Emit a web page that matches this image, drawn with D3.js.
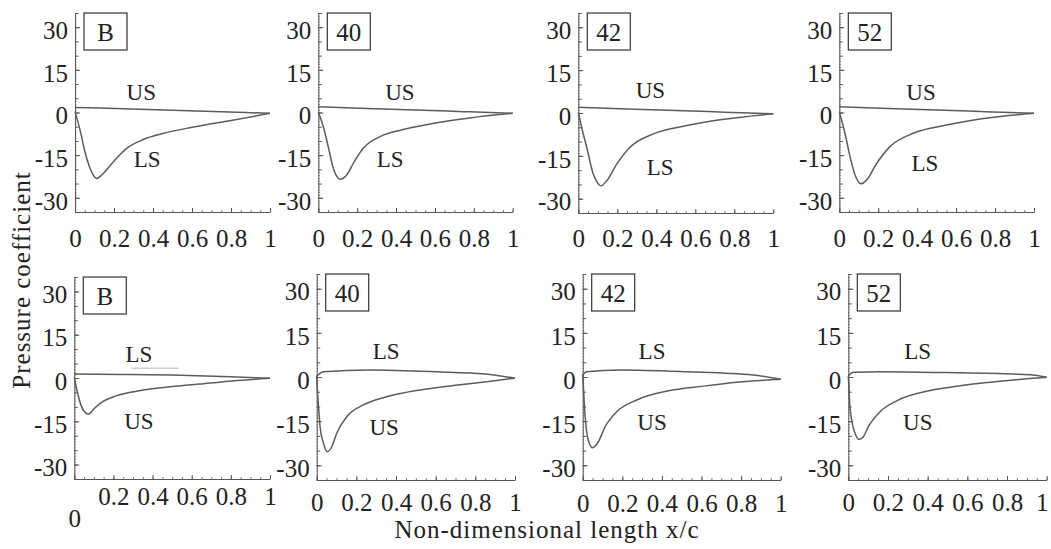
<!DOCTYPE html>
<html>
<head>
<meta charset="utf-8">
<script src="https://cdn.jsdelivr.net/npm/d3@7"></script>
<style>
  html, body { margin: 0; padding: 0; background: #fff; }
  svg { display: block; }
</style>
</head>
<body>
<svg id="chart" width="1051" height="549"></svg>
<script>
// ---- Tick values and labels ----
const xTicks = [0, 0.2, 0.4, 0.6, 0.8, 1];
const xTickLabels = ["0", "0.2", "0.4", "0.6", "0.8", "1"];
const yTicks = [-30, -15, 0, 15, 30];
const yTickLabels = ["-30", "-15", "0", "15", "30"];
const yDomain = [-35, 35];

// ---- Case names (one per panel, row by row) ----
const caseNames = ["B", "40", "42", "52", "B", "40", "42", "52"];

// ---- Pressure coefficient along the chord, [x/c, Cp] ----
// Top row
const topB_US = [[0, 1.8], [0.25, 1.3], [0.5, 0.8], [0.75, 0.25], [1, -0.3]];
const topB_LS = [[0, 0.3], [0.026, -6.2], [0.051, -13.8], [0.077, -19.6], [0.094, -22], [0.111, -23.2],
  [0.137, -22], [0.154, -20.8], [0.197, -17.3], [0.265, -12.6], [0.35, -9.5], [0.45, -7.4],
  [0.6, -5.2], [0.8, -2.8], [1, -0.3]];
const top40_US = [[0, 2.0], [0.25, 1.4], [0.5, 0.9], [0.75, 0.3], [1, -0.3]];
const top40_LS = [[0, 0.2], [0.026, -5], [0.051, -12], [0.077, -19.6], [0.095, -22.5], [0.112, -23.5],
  [0.146, -22], [0.18, -17.9], [0.231, -12.6], [0.317, -8.5], [0.437, -6.0], [0.609, -3.6],
  [0.781, -1.9], [1, -0.3]];
const top42_US = [[0, 2.0], [0.25, 1.4], [0.5, 0.9], [0.75, 0.3], [1, -0.3]];
const top42_LS = [[0, 0.3], [0.017, -5], [0.043, -12], [0.077, -21.4], [0.095, -24], [0.116, -25.5],
  [0.146, -23.7], [0.197, -17.9], [0.265, -12], [0.385, -7.3], [0.556, -4.4], [0.727, -2.4], [1, -0.3]];
const top52_US = [[0, 2.0], [0.25, 1.4], [0.5, 0.9], [0.75, 0.3], [1, -0.3]];
const top52_LS = [[0, 0.3], [0.029, -7.3], [0.055, -15.5], [0.081, -22], [0.111, -25.1], [0.141, -23.7],
  [0.192, -17.9], [0.26, -12], [0.38, -7.3], [0.551, -4.4], [0.723, -2.3], [1, -0.3]];
// Bottom row
const botB_LS = [[0, 1.4], [0.25, 1.2], [0.5, 1.0], [0.8, 0.45], [1, -0.1]];
const botB_US = [[0, 0.3], [0.017, -5.3], [0.034, -9.4], [0.056, -12], [0.073, -12.5], [0.103, -10.5],
  [0.145, -8.2], [0.213, -6.2], [0.332, -4.4], [0.468, -3.2], [0.638, -2.1], [0.808, -1.0], [1, -0.1]];
const bot40_LS = [[0, 0.3], [0.034, 1.8], [0.27, 2.4], [0.6, 1.8], [0.85, 1.0], [1, -0.4]];
const bot40_US = [[0, 0.3], [0.003, -4], [0.008, -9], [0.017, -16.9], [0.034, -22.5], [0.054, -25.4],
  [0.076, -23.7], [0.101, -19.1], [0.151, -13.5], [0.235, -9.5], [0.353, -6.7], [0.521, -4.4],
  [0.689, -2.9], [0.857, -1.6], [1, -0.4]];
const bot42_LS = [[0, 0.7], [0.02, 1.8], [0.19, 2.4], [0.525, 1.8], [0.86, 0.7], [1, -0.8]];
const bot42_US = [[0, 0.7], [0.004, -4], [0.008, -9], [0.017, -16.9], [0.028, -21.4], [0.05, -24],
  [0.079, -22], [0.113, -16.9], [0.172, -11.8], [0.273, -7.8], [0.441, -4.6], [0.609, -3.1],
  [0.778, -1.8], [1, -0.8]];
const bot52_LS = [[0, 0.3], [0.025, 1.6], [0.16, 1.8], [0.496, 1.5], [0.832, 1.0], [0.93, 0.7], [1, -0.1]];
const bot52_US = [[0, 0.3], [0.003, -3], [0.006, -7.8], [0.017, -14.6], [0.034, -19.1], [0.054, -21.2],
  [0.076, -20.3], [0.101, -16.9], [0.16, -11.8], [0.244, -8.1], [0.412, -4.6], [0.58, -2.8],
  [0.832, -1.0], [1, -0.1]];

// Faint trace under the LS tag of the lower baseline panel
const faintTrace = [[0.293, 3.4], [0.531, 3.4]];

// Surface tags: [text, x/c, Cp] anchors
const surfaceTags = [
  [["US", 0.34, 7.2], ["LS", 0.37, -16.7]],
  [["US", 0.42, 7.2], ["LS", 0.37, -16.7]],
  [["US", 0.37, 7.9], ["LS", 0.42, -19.2]],
  [["US", 0.42, 7.2], ["LS", 0.44, -17.8]],
  [["LS", 0.33, 8.3], ["US", 0.33, -15.2]],
  [["LS", 0.35, 8.5], ["US", 0.34, -17.3]],
  [["LS", 0.35, 8.5], ["US", 0.35, -15.6]],
  [["LS", 0.35, 8.5], ["US", 0.35, -15.3]]
];

const seriesByPanel = [
  [topB_US, topB_LS], [top40_US, top40_LS], [top42_US, top42_LS], [top52_US, top52_LS],
  [botB_LS, botB_US], [bot40_LS, bot40_US], [bot42_LS, bot42_US], [bot52_LS, bot52_US]
];

// ---- Panel frames (pixels) ----
const frames = [
  { left: 75,    right: 270,    top: 13,  bottom: 212, xPad: 17 },
  { left: 318.3, right: 512.7,  top: 13,  bottom: 212, xPad: 17 },
  { left: 578.3, right: 773.3,  top: 13,  bottom: 213, xPad: 16 },
  { left: 839.3, right: 1034,   top: 13,  bottom: 212, xPad: 17 },
  { left: 74.3,  right: 270,    top: 277, bottom: 479, xPad: 8, dropZero: 22 },
  { left: 316.7, right: 515,    top: 274, bottom: 480, xPad: 13 },
  { left: 582.7, right: 780.7,  top: 274, bottom: 480, xPad: 14 },
  { left: 848.3, right: 1046.7, top: 274, bottom: 480, xPad: 13, lastDx: -5 }
];

const FONT = "'Liberation Serif', 'Times New Roman', serif";
const INK = "#222";
const AXIS = "#555";
const CURVE = "#5c5c5c";

const svg = d3.select("#chart");

const line = (x, y) => d3.line()
  .x(d => x(d[0]))
  .y(d => y(d[1]))
  .curve(d3.curveMonotoneX);

frames.forEach((f, i) => {
  const x = d3.scaleLinear().domain([0, 1]).range([f.left, f.right]);
  const y = d3.scaleLinear().domain(yDomain).range([f.bottom, f.top]);
  const g = svg.append("g").attr("class", "panel");

  // fine y ticks
  g.append("g")
    .attr("transform", `translate(${f.left},0)`)
    .call(d3.axisLeft(y).tickValues(d3.range(-35, 36, 1)).tickSize(-1.5).tickFormat(""))
    .call(a => a.select(".domain").remove())
    .call(a => a.selectAll("line").attr("stroke", "#888"));
  // minor y ticks
  g.append("g")
    .attr("transform", `translate(${f.left},0)`)
    .call(d3.axisLeft(y).tickValues(d3.range(-35, 36, 5)).tickSize(-3.5).tickFormat(""))
    .call(a => a.select(".domain").remove())
    .call(a => a.selectAll("line").attr("stroke", AXIS));
  // minor x ticks
  g.append("g")
    .attr("transform", `translate(0,${f.bottom})`)
    .call(d3.axisBottom(x).tickValues(d3.range(0, 1.0001, 0.05)).tickSize(-2).tickFormat(""))
    .call(a => a.select(".domain").remove())
    .call(a => a.selectAll("line").attr("stroke", "#777"));

  // main y axis
  g.append("g")
    .attr("transform", `translate(${f.left},0)`)
    .call(d3.axisLeft(y).tickValues(yTicks).tickSizeInner(-5).tickSizeOuter(0).tickPadding(7)
      .tickFormat((d, k) => yTickLabels[k]))
    .call(a => a.select(".domain").attr("stroke", AXIS))
    .call(a => a.selectAll(".tick line").attr("stroke", AXIS))
    .call(a => a.selectAll("text").attr("font-family", FONT).attr("font-size", 25)
      .attr("fill", INK).attr("dy", "0.45em"));

  // main x axis
  g.append("g")
    .attr("transform", `translate(0,${f.bottom})`)
    .call(d3.axisBottom(x).tickValues(xTicks).tickSizeInner(-4).tickSizeOuter(0).tickPadding(f.xPad)
      .tickFormat((d, k) => xTickLabels[k]))
    .call(a => a.select(".domain").attr("stroke", AXIS))
    .call(a => a.selectAll(".tick line").attr("stroke", AXIS))
    .call(a => a.selectAll("text").attr("font-family", FONT).attr("font-size", 25).attr("fill", INK))
    .call(a => {
      if (f.dropZero) {
        a.selectAll(".tick").filter(d => d === 0).select("text")
          .attr("y", f.xPad + f.dropZero);
      }
      if (f.lastDx) {
        a.selectAll(".tick").filter(d => d === 1).select("text")
          .attr("dx", f.lastDx);
      }
    });

  // faint trace in the lower baseline panel
  if (i === 4) {
    g.append("path")
      .attr("d", line(x, y)(faintTrace))
      .attr("fill", "none").attr("stroke", "#cfcfcf").attr("stroke-width", 1.5);
  }

  // Cp curves
  seriesByPanel[i].forEach(s => {
    g.append("path")
      .attr("d", line(x, y)(s))
      .attr("fill", "none")
      .attr("stroke", CURVE)
      .attr("stroke-width", 1.5)
      .attr("stroke-linejoin", "round");
  });

  // surface tags
  surfaceTags[i].forEach(t => {
    g.append("text")
      .attr("x", x(t[1])).attr("y", y(t[2]))
      .attr("text-anchor", "middle")
      .attr("dominant-baseline", "central")
      .attr("font-family", FONT).attr("font-size", 23)
      .attr("fill", INK)
      .text(t[0]);
  });

  // case name box
  const bx = f.left + 9, by = f.top, bw = 43, bh = 37;
  g.append("rect")
    .attr("x", bx).attr("y", by).attr("width", bw).attr("height", bh)
    .attr("fill", "#fff").attr("stroke", "#333").attr("stroke-width", 1.2);
  g.append("text")
    .attr("x", bx + bw / 2).attr("y", by + bh / 2 + 1)
    .attr("text-anchor", "middle").attr("dominant-baseline", "central")
    .attr("font-family", FONT).attr("font-size", 25).attr("fill", INK)
    .text(caseNames[i]);
});

// shared axis titles
svg.append("text")
  .attr("x", 547).attr("y", 538)
  .attr("text-anchor", "middle")
  .attr("font-family", FONT).attr("font-size", 25).attr("letter-spacing", "1px")
  .attr("fill", INK)
  .text("Non-dimensional length x/c");

svg.append("text")
  .attr("transform", "translate(30,280) rotate(-90)")
  .attr("text-anchor", "middle")
  .attr("font-family", FONT).attr("font-size", 25).attr("letter-spacing", "1px")
  .attr("fill", INK)
  .text("Pressure coefficient");
</script>
</body>
</html>
